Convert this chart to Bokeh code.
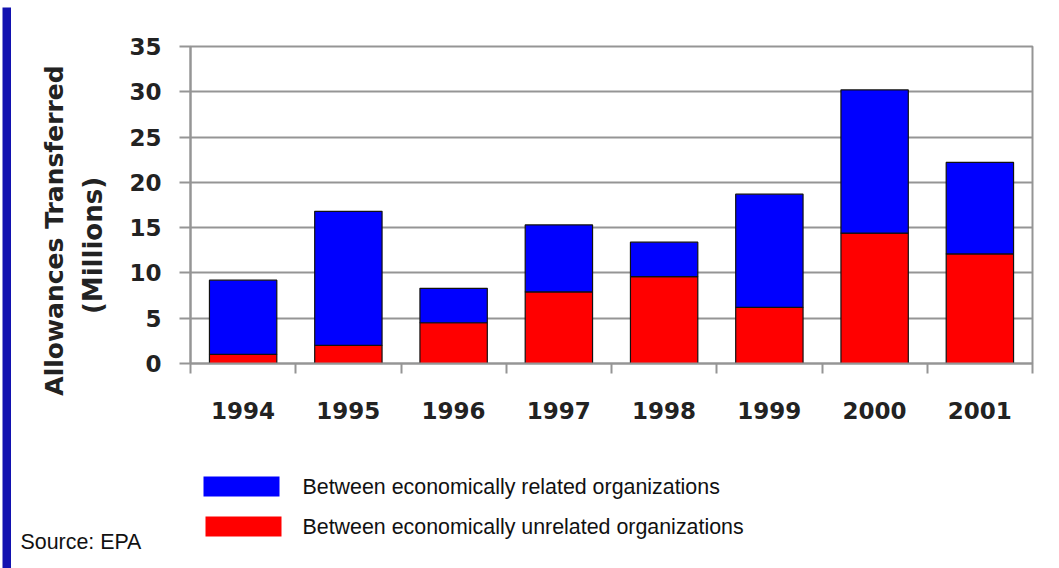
import numpy as np
from bokeh.plotting import figure
from bokeh.layouts import row, column
from bokeh.models import Range1d, FixedTicker, ColumnDataSource
from bokeh.core.properties import value
from bokeh.embed import file_html
from bokeh.resources import INLINE

# Allowance transfers, millions
years = ["1994", "1995", "1996", "1997", "1998", "1999", "2000", "2001"]
unrelated = [1.0, 2.0, 4.5, 7.9, 9.6, 6.2, 14.4, 12.1]
related = [8.2, 14.8, 3.8, 7.4, 3.8, 12.5, 15.8, 10.1]
y_ticks = [0, 5, 10, 15, 20, 25, 30, 35]

series_names = ["Between economically unrelated organizations",
                "Between economically related organizations"]
series_colors = ["#ff0000", "#0000ff"]

W, H = 1059, 568
EDGE_TOP, EDGE_LEFT = 7, 11          # blue page edges
SIDE_W = 111                         # page x where the chart panel starts
CHART_H = 450                        # chart panel height (below the top edge)
FRAME_LEFT, FRAME_RIGHT = 190, 1032  # page x of the plotting frame
FRAME_TOP, FRAME_BOTTOM = 46, 363    # page y of the plotting frame
BLUE_EDGE = "#1212b0"
GRAY = "#959595"
LABEL_FONT = "DejaVu Sans"
TEXT_FONT = "Liberation Sans"


def blank(width, height, x0, y0):
    """Axis-less figure whose data units are page pixels (y grows downward)."""
    f = figure(width=width, height=height, output_backend="svg", toolbar_location=None,
               x_range=Range1d(x0, x0 + width), y_range=Range1d(y0 + height, y0),
               x_axis_type=None, y_axis_type=None, min_border=0,
               background_fill_color="white", border_fill_color="white")
    f.outline_line_color = None
    f.grid.visible = False
    return f


def blue_edge(f, left, right, top, bottom):
    f.quad(left=[left], right=[right], top=[top], bottom=[bottom],
           fill_color=BLUE_EDGE, line_color=None)


# ---- main chart -------------------------------------------------------------
xpos = np.arange(len(years)) + 0.5
source = ColumnDataSource(dict(x=xpos, year=years, unrelated=unrelated, related=related))

p = figure(width=W - SIDE_W, height=CHART_H, output_backend="svg", toolbar_location=None,
           x_range=Range1d(0, len(years)), y_range=Range1d(0, 35),
           min_border_left=FRAME_LEFT - SIDE_W, min_border_right=W - FRAME_RIGHT,
           min_border_top=FRAME_TOP - EDGE_TOP,
           min_border_bottom=EDGE_TOP + CHART_H - FRAME_BOTTOM,
           background_fill_color="white", border_fill_color="white")

p.vbar_stack(["unrelated", "related"], x="x", width=0.64, source=source,
             color=series_colors, line_color="#111111", line_width=1.2)

p.yaxis.ticker = FixedTicker(ticks=y_ticks)
p.yaxis.axis_line_color = GRAY
p.yaxis.axis_line_width = 2
p.yaxis.major_tick_line_color = GRAY
p.yaxis.major_tick_line_width = 2
p.yaxis.major_tick_in = 0
p.yaxis.major_tick_out = 11
p.yaxis.minor_tick_line_color = None
p.yaxis.major_label_standoff = 18
p.yaxis.major_label_text_font = LABEL_FONT
p.yaxis.major_label_text_font_style = "bold"
p.yaxis.major_label_text_font_size = "23px"
p.yaxis.major_label_text_color = "#222222"

# year labels centred on the bars, tick marks between the years
p.xaxis.ticker = FixedTicker(ticks=list(xpos), minor_ticks=list(range(len(years) + 1)))
p.xaxis.major_label_overrides = {float(x): y for x, y in zip(xpos, years)}
p.xaxis.axis_line_color = GRAY
p.xaxis.axis_line_width = 2
p.xaxis.major_tick_line_color = None
p.xaxis.major_tick_in = 0
p.xaxis.major_tick_out = 0
p.xaxis.minor_tick_line_color = GRAY
p.xaxis.minor_tick_line_width = 2
p.xaxis.minor_tick_in = 0
p.xaxis.minor_tick_out = 10
p.xaxis.major_label_standoff = 28
p.xaxis.major_label_text_font = LABEL_FONT
p.xaxis.major_label_text_font_style = "bold"
p.xaxis.major_label_text_font_size = "23px"
p.xaxis.major_label_text_color = "#222222"

p.xgrid.grid_line_color = None
p.ygrid.grid_line_color = GRAY
p.ygrid.grid_line_width = 2
p.outline_line_color = GRAY
p.outline_line_width = 2

# ---- rotated two-line y title -------------------------------------------------
side = blank(SIDE_W - EDGE_LEFT, CHART_H, EDGE_LEFT, EDGE_TOP)
side.text(x=[54, 92.5], y=[230, 245], text=["Allowances Transferred", "(Millions)"],
          angle=np.pi / 2, text_align="center", text_baseline="middle",
          text_font=value(LABEL_FONT), text_font_style="bold",
          text_font_size=["25px", "26px"], text_color="#222222")

# ---- legend and source note -------------------------------------------------
foot_top = EDGE_TOP + CHART_H
foot = blank(W - EDGE_LEFT, H - foot_top, EDGE_LEFT, foot_top)
swatch_left = [203, 205]
swatch_top = [476, 516]
order = [1, 0]
foot.quad(left=swatch_left, right=[s + 76 for s in swatch_left],
          top=swatch_top, bottom=[t + 20 for t in swatch_top],
          fill_color=[series_colors[i] for i in order], line_color=None)
foot.text(x=[302, 302], y=[t + 10 for t in swatch_top],
          text=[series_names[i] for i in order],
          text_align="left", text_baseline="middle",
          text_font=value(TEXT_FONT), text_font_size="21.4px", text_color="#111111")
foot.text(x=[20], y=[541], text=["Source: EPA"], text_align="left", text_baseline="middle",
          text_font=value(TEXT_FONT), text_font_size="21.4px", text_color="#111111")

# ---- blue page edges ------------------------------------------------------------
top_edge = blank(W, EDGE_TOP, 0, 0)
blue_edge(top_edge, 2, W + 3, 2, EDGE_TOP + 3)
left_edge = blank(EDGE_LEFT, H - EDGE_TOP, 0, EDGE_TOP)
blue_edge(left_edge, 2, EDGE_LEFT, EDGE_TOP - 3, H + 3)

# each figure sits in its own container so frames are not aligned across figures
layout = column(row(top_edge),
                row(column(left_edge),
                    column(row(column(side), column(p)), row(foot))))

open("out.html", "w").write(file_html(layout, INLINE))
